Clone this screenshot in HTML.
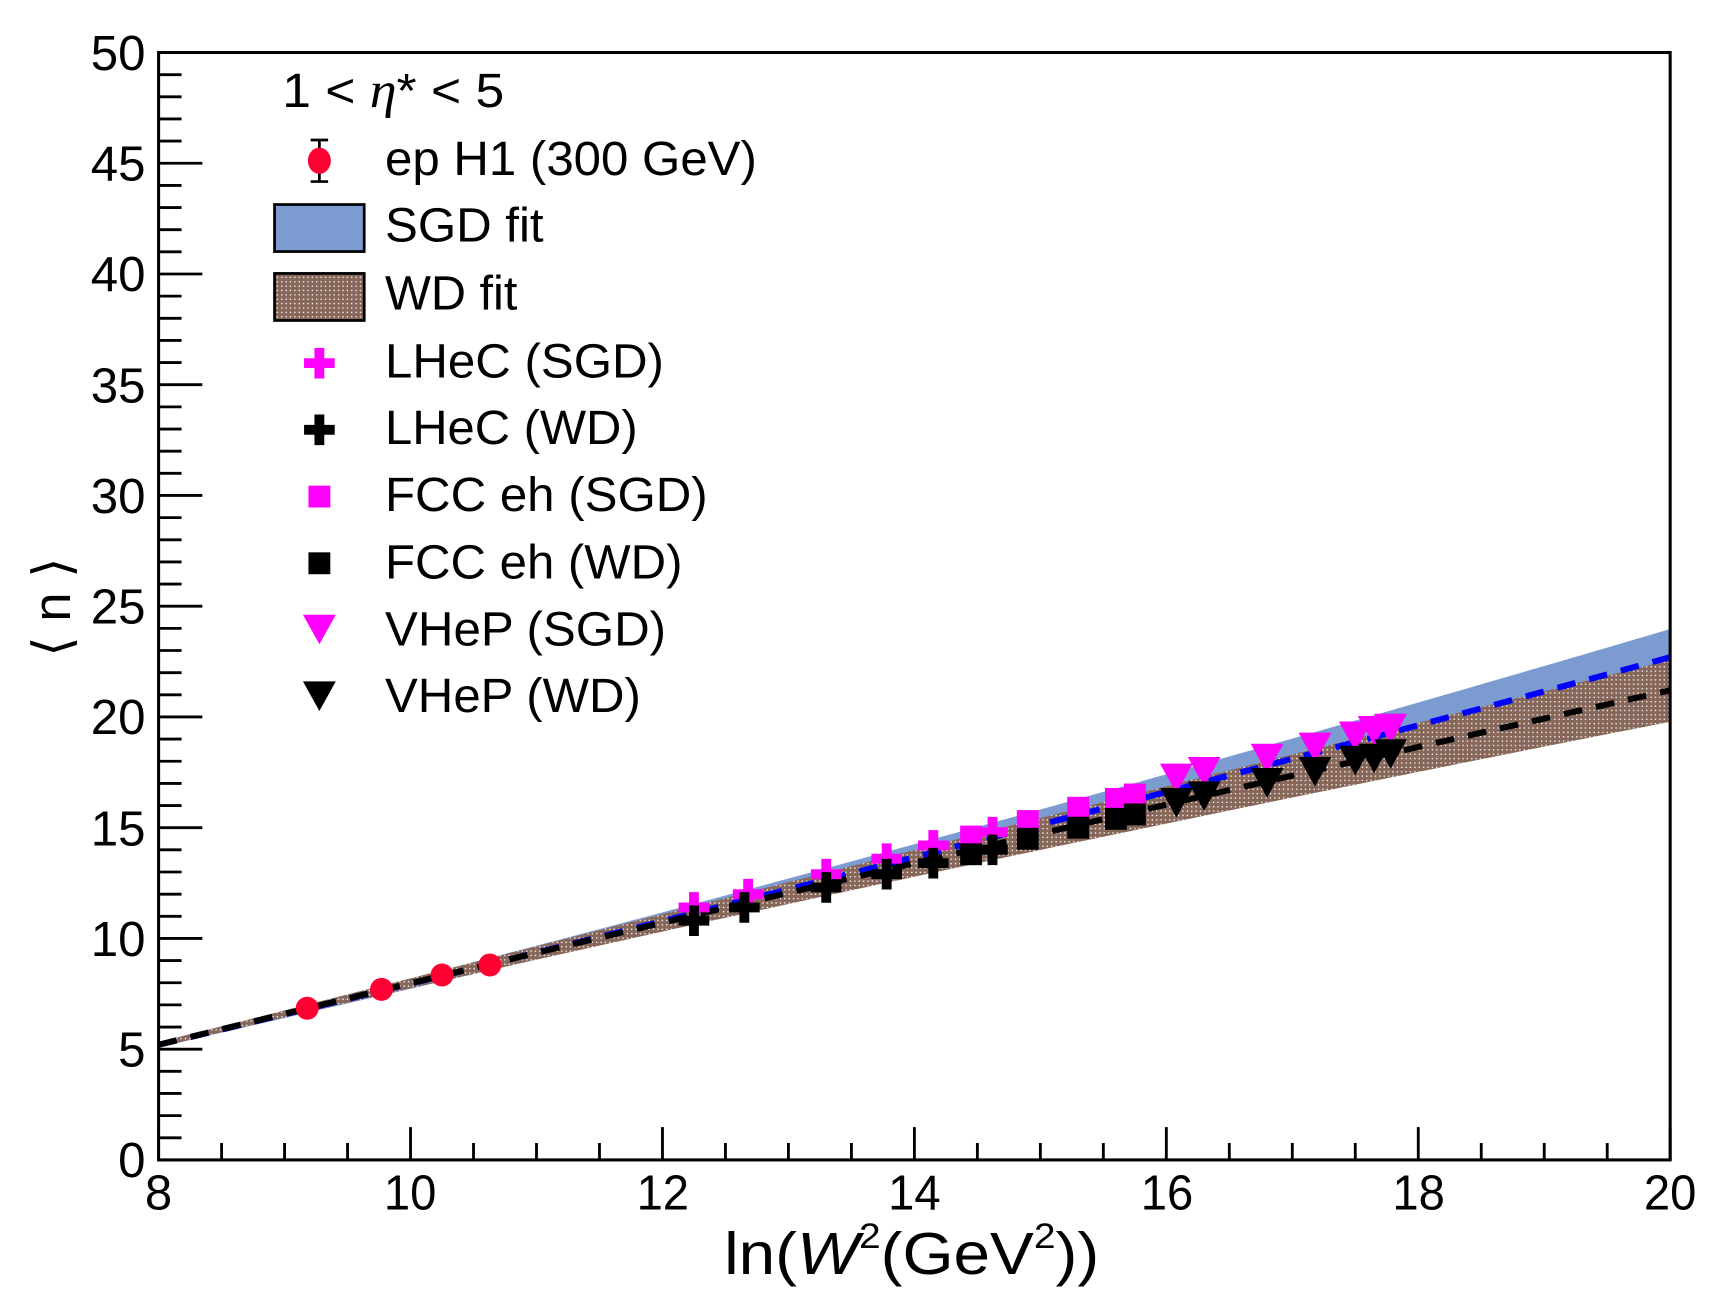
<!DOCTYPE html>
<html><head><meta charset="utf-8"><style>
html,body{margin:0;padding:0;background:#fff;}
svg{display:block;}
text{font-family:"Liberation Sans",Arial,sans-serif;fill:#000;}
</style></head><body>
<svg id="s" xmlns="http://www.w3.org/2000/svg" width="1715" height="1309" viewBox="0 0 1568 1196.8">
<defs>
<pattern id="wd" width="4" height="4" patternUnits="userSpaceOnUse">
<rect width="4" height="4" fill="#86675a"/>
<rect x="1" y="1" width="1.2" height="1.2" fill="#fff"/>
</pattern>
</defs>
<rect width="1568" height="1197" fill="#fff"/>
<g id="plot"></g>
<g id="ticks" stroke="#000" stroke-width="2.6"></g>
<rect x="145" y="48" width="1382" height="1012.5" fill="none" stroke="#000" stroke-width="2.8"/>
<g font-size="45" text-anchor="middle">
<text x="145" y="1106">8</text><text x="375" y="1106" textLength="48" lengthAdjust="spacingAndGlyphs">10</text><text x="606" y="1106" textLength="48" lengthAdjust="spacingAndGlyphs">12</text>
<text x="836" y="1106" textLength="48" lengthAdjust="spacingAndGlyphs">14</text><text x="1067" y="1106" textLength="48" lengthAdjust="spacingAndGlyphs">16</text><text x="1297" y="1106" textLength="48" lengthAdjust="spacingAndGlyphs">18</text><text x="1527" y="1106" textLength="48" lengthAdjust="spacingAndGlyphs">20</text>
</g>
<g font-size="45" text-anchor="end">
<text x="133" y="1076">0</text><text x="133" y="975">5</text><text x="133" y="874">10</text><text x="133" y="773">15</text>
<text x="133" y="671">20</text><text x="133" y="570">25</text><text x="133" y="469">30</text><text x="133" y="368">35</text>
<text x="133" y="266">40</text><text x="133" y="165">45</text><text x="133" y="64">50</text>
</g>
<text x="662" y="1165" font-size="54" textLength="343" lengthAdjust="spacingAndGlyphs">ln(<tspan font-style="italic">W</tspan><tspan dy="-24" font-size="32">2</tspan><tspan dy="24">(GeV</tspan><tspan dy="-24" font-size="32">2</tspan><tspan dy="24">))</tspan></text>
<text transform="translate(64,555) rotate(-90)" font-size="48" text-anchor="middle">⟨ n ⟩</text>
<g font-size="44" lengthAdjust="spacingAndGlyphs">
<text x="258" y="98" textLength="203" lengthAdjust="spacingAndGlyphs">1 &lt;  <tspan font-family="Liberation Serif" font-style="italic" font-size="46">η</tspan>* &lt; 5</text>
<text x="352" y="160" textLength="340" lengthAdjust="spacingAndGlyphs">ep H1 (300 GeV)</text>
<text x="352" y="221" textLength="145" lengthAdjust="spacingAndGlyphs">SGD fit</text>
<text x="352" y="283" textLength="121" lengthAdjust="spacingAndGlyphs">WD fit</text>
<text x="352" y="345" textLength="255" lengthAdjust="spacingAndGlyphs">LHeC (SGD)</text>
<text x="352" y="406" textLength="231" lengthAdjust="spacingAndGlyphs">LHeC (WD)</text>
<text x="352" y="467" textLength="295" lengthAdjust="spacingAndGlyphs">FCC eh (SGD)</text>
<text x="352" y="529" textLength="272" lengthAdjust="spacingAndGlyphs">FCC eh (WD)</text>
<text x="352" y="590" textLength="257" lengthAdjust="spacingAndGlyphs">VHeP (SGD)</text>
<text x="352" y="651" textLength="234" lengthAdjust="spacingAndGlyphs">VHeP (WD)</text>
</g>
<g id="leg"></g>
</svg>
<script>
var NS="http://www.w3.org/2000/svg";
function X(v){return 145+(v-8)*115.17;}
function Y(v){return 1060.5-v*20.25;}
function el(p,t,a){var e=document.createElementNS(NS,t);for(var k in a)e.setAttribute(k,a[k]);p.appendChild(e);return e;}
var plot=document.getElementById('plot'),ticks=document.getElementById('ticks'),leg=document.getElementById('leg');
for(var v=8;v<=20.001;v+=0.5){var M=Math.abs(v-Math.round(v/2)*2)<1e-6;var L=M?30:15.5;
el(ticks,'line',{x1:X(v),x2:X(v),y1:1060.5,y2:1060.5-L});}
for(var n=0;n<=50;n++){var L=(n%5==0)?40:21;el(ticks,'line',{x1:145,x2:145+L,y1:Y(n),y2:Y(n)});}
function sgd(x){var t=x-8;return 5.2+1.364*t+0.00785*t*t;}
function wd(x){var t=x-8;return 5.2+1.399*t-0.00545*t*t;}
function band(f,up,dn,c0,pw,fill){var pts=[],i,x;
for(i=0;i<=120;i++){x=8+i*0.1;var t=(x-8)/12;pts.push(X(x)+','+Y(f(x)+c0+up*Math.pow(t,pw)));}
for(i=120;i>=0;i--){x=8+i*0.1;var t=(x-8)/12;pts.push(X(x)+','+Y(f(x)-c0-dn*Math.pow(t,pw)));}
el(plot,'polygon',{points:pts.join(' '),fill:fill});}
band(sgd,1.15,1.15,0.12,1.3,'#7b9bd1');
band(wd,1.25,1.3,0.12,1.4,'url(#wd)');
function line(f,c){var pts=[];for(var i=0;i<=120;i++){var x=8+i*0.1;pts.push(X(x)+','+Y(f(x)));}
el(plot,'polyline',{points:pts.join(' '),fill:'none',stroke:c,'stroke-width':5.5,'stroke-dasharray':'17,13'});}
line(sgd,'#0000ff');line(wd,'#000');
function plus(g,x,y,c){el(g,'path',{d:'M'+(x-4.5)+','+(y-14)+'h9v9.5h9.5v9h-9.5v9.5h-9v-9.5h-9.5v-9h9.5z',fill:c});}
function sq(g,x,y,c){el(g,'rect',{x:x-10,y:y-10,width:20,height:20,fill:c});}
function tri(g,x,y,c){el(g,'polygon',{points:(x-15)+','+(y-12)+' '+(x+15)+','+(y-12)+' '+x+','+(y+15),fill:c});}
function circ(g,x,y){el(g,'ellipse',{cx:x,cy:y,rx:10.5,ry:10.5,fill:'#ff0033'});}
var lS=[[12.25,11.4],[12.68,12.0],[13.3,12.9],[13.78,13.6],[14.15,14.2],[14.62,14.8]];
var lW=[[12.25,10.8],[12.65,11.4],[13.3,12.3],[13.78,12.9],[14.15,13.4],[14.62,14.0]];
var fS=[[14.45,14.6],[14.9,15.3],[15.3,15.9],[15.6,16.3],[15.75,16.5]];
var fW=[[14.45,13.8],[14.9,14.5],[15.3,15.0],[15.6,15.4],[15.75,15.6]];
var vS=[[16.08,17.3],[16.3,17.6],[16.8,18.2],[17.18,18.7],[17.5,19.2],[17.65,19.45],[17.78,19.55]];
var vW=[[16.08,16.2],[16.3,16.5],[16.8,17.1],[17.18,17.6],[17.5,18.1],[17.65,18.2],[17.78,18.4]];
lS.forEach(function(p){plus(plot,X(p[0]),Y(p[1]),'#ff00ff');});
fS.forEach(function(p){sq(plot,X(p[0]),Y(p[1]),'#ff00ff');});
vS.forEach(function(p){tri(plot,X(p[0]),Y(p[1]),'#ff00ff');});
lW.forEach(function(p){plus(plot,X(p[0]),Y(p[1]),'#000');});
fW.forEach(function(p){sq(plot,X(p[0]),Y(p[1]),'#000');});
vW.forEach(function(p){tri(plot,X(p[0]),Y(p[1]),'#000');});
[[9.18,6.85],[9.77,7.7],[10.25,8.35],[10.63,8.8]].forEach(function(p){circ(plot,X(p[0]),Y(p[1]));});
el(leg,'path',{d:'M292,127v40M284,128h16M284,166h16',stroke:'#000','stroke-width':2.5,fill:'none'});
el(leg,'ellipse',{cx:292,cy:147,rx:10.5,ry:12,fill:'#ff0033'});
el(leg,'rect',{x:251,y:187,width:82,height:43,fill:'#7b9bd1',stroke:'#000','stroke-width':2.5});
el(leg,'rect',{x:251,y:250,width:82,height:43,fill:'url(#wd)',stroke:'#000','stroke-width':2.5});
plus(leg,292,332,'#ff00ff');plus(leg,292,393,'#000');
sq(leg,292,454,'#ff00ff');sq(leg,292,515,'#000');
tri(leg,292,574,'#ff00ff');tri(leg,292,635,'#000');
</script>
</body></html>
